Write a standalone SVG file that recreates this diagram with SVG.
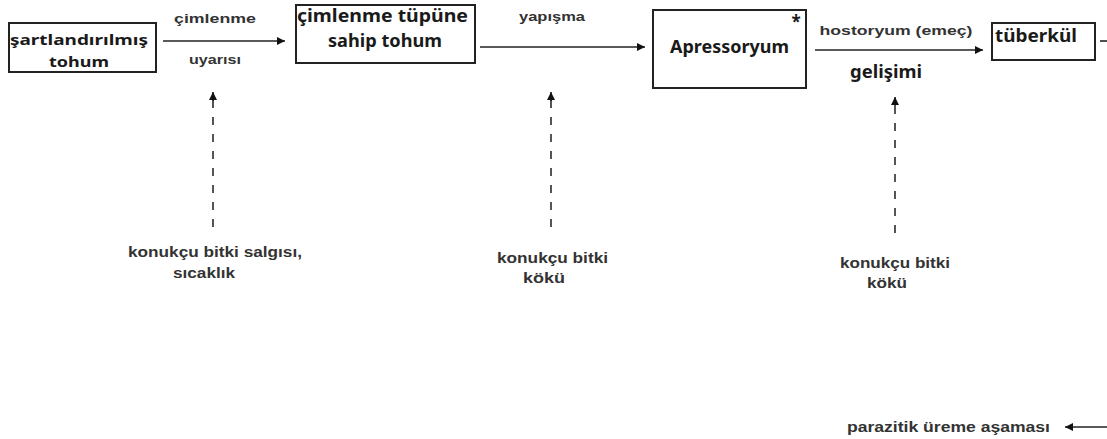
<svg xmlns="http://www.w3.org/2000/svg" width="1107" height="439" viewBox="0 0 1107 439">
<defs>
<marker id="ah" viewBox="0 0 10 10" refX="10" refY="5" markerWidth="10" markerHeight="8" markerUnits="userSpaceOnUse" orient="auto">
<path d="M0,0 L10,5 L0,10 z" fill="#111"/>
</marker>
</defs>
<style>
.box{fill:#fff;stroke:#222;stroke-width:2}
.bt{font-family:"Noto Sans","Liberation Sans",sans-serif;font-weight:bold;font-size:17px;fill:#1a1a1a}
.sm{font-size:15px}
.lb{font-family:"Liberation Sans",Arial,sans-serif;font-weight:bold;font-size:13px;fill:#333}
.lk{font-size:14px}
.ln{stroke:#222;stroke-width:1.6;fill:none}
.dash{stroke:#555;stroke-width:2;fill:none;stroke-dasharray:8 9}
</style>
<rect width="1107" height="439" fill="#fff"/>
<g id="connectors">
<line class="ln" x1="163" y1="41" x2="285" y2="41" marker-end="url(#ah)"/>
<line class="ln" x1="480" y1="47" x2="645" y2="47" marker-end="url(#ah)"/>
<line class="ln" x1="815" y1="50" x2="983" y2="50" marker-end="url(#ah)"/>
<line class="ln" x1="1100" y1="41" x2="1107" y2="41" stroke="#666"/>
<line class="ln" x1="1107" y1="427" x2="1065" y2="427" marker-end="url(#ah)"/>
<line class="dash" x1="213" y1="227" x2="213" y2="100"/>
<line class="ln" x1="213" y1="101" x2="213" y2="92" marker-end="url(#ah)"/>
<line class="dash" x1="551" y1="227" x2="551" y2="100"/>
<line class="ln" x1="551" y1="101" x2="551" y2="92" marker-end="url(#ah)"/>
<line class="dash" x1="895" y1="233" x2="895" y2="105"/>
<line class="ln" x1="895" y1="106" x2="895" y2="97" marker-end="url(#ah)"/>
<text class="lb" x="215" y="23" text-anchor="middle" textLength="82" lengthAdjust="spacingAndGlyphs">çimlenme</text>
<text class="lb" x="215" y="64" text-anchor="middle" textLength="52" lengthAdjust="spacingAndGlyphs">uyarısı</text>
<text class="lb" x="552" y="21" text-anchor="middle" textLength="66" lengthAdjust="spacingAndGlyphs">yapışma</text>
<text class="lb" x="896" y="35" text-anchor="middle" textLength="153" lengthAdjust="spacingAndGlyphs">hostoryum (emeç)</text>
<text class="bt" x="886" y="78" text-anchor="middle" textLength="72" lengthAdjust="spacingAndGlyphs">gelişimi</text>
</g>
<g id="n1">
<rect class="box" x="9" y="23" width="147" height="49"/>
<text class="bt sm" x="10" y="45" textLength="138" lengthAdjust="spacingAndGlyphs">şartlandırılmış</text>
<text class="bt sm" x="79" y="67" text-anchor="middle" textLength="60" lengthAdjust="spacingAndGlyphs">tohum</text>
</g>
<g id="n2">
<rect class="box" x="296" y="5" width="179" height="58"/>
<text class="bt" x="297" y="22" textLength="171" lengthAdjust="spacingAndGlyphs">çimlenme tüpüne</text>
<text class="bt" x="385" y="47" text-anchor="middle" textLength="114" lengthAdjust="spacingAndGlyphs">sahip tohum</text>
</g>
<g id="n3">
<rect class="box" x="653" y="10" width="153" height="78" stroke="#444" stroke-width="1.6"/>
<text class="bt" x="729.5" y="53" text-anchor="middle" textLength="119" lengthAdjust="spacingAndGlyphs">Apressoryum</text>
<text class="bt" x="796" y="28" text-anchor="middle" font-size="15">*</text>
</g>
<g id="n4">
<rect class="box" x="992" y="23" width="103" height="37"/>
<text class="bt" x="995" y="42" textLength="82" lengthAdjust="spacingAndGlyphs">tüberkül</text>
</g>
<g id="l1">
<text class="lb lk" x="128" y="257" textLength="174" lengthAdjust="spacingAndGlyphs">konukçu bitki salgısı,</text>
<text class="lb lk" x="173" y="278" textLength="62" lengthAdjust="spacingAndGlyphs">sıcaklık</text>
</g>
<g id="l2">
<text class="lb lk" x="497" y="263" textLength="111" lengthAdjust="spacingAndGlyphs">konukçu bitki</text>
<text class="lb lk" x="523" y="283" textLength="42" lengthAdjust="spacingAndGlyphs">kökü</text>
</g>
<g id="l3">
<text class="lb lk" x="840" y="268" textLength="110" lengthAdjust="spacingAndGlyphs">konukçu bitki</text>
<text class="lb lk" x="867" y="288" textLength="40" lengthAdjust="spacingAndGlyphs">kökü</text>
</g>
<g id="l4">
<text class="lb lk" x="847" y="432" textLength="203" lengthAdjust="spacingAndGlyphs">parazitik üreme aşaması</text>
</g>
</svg>
